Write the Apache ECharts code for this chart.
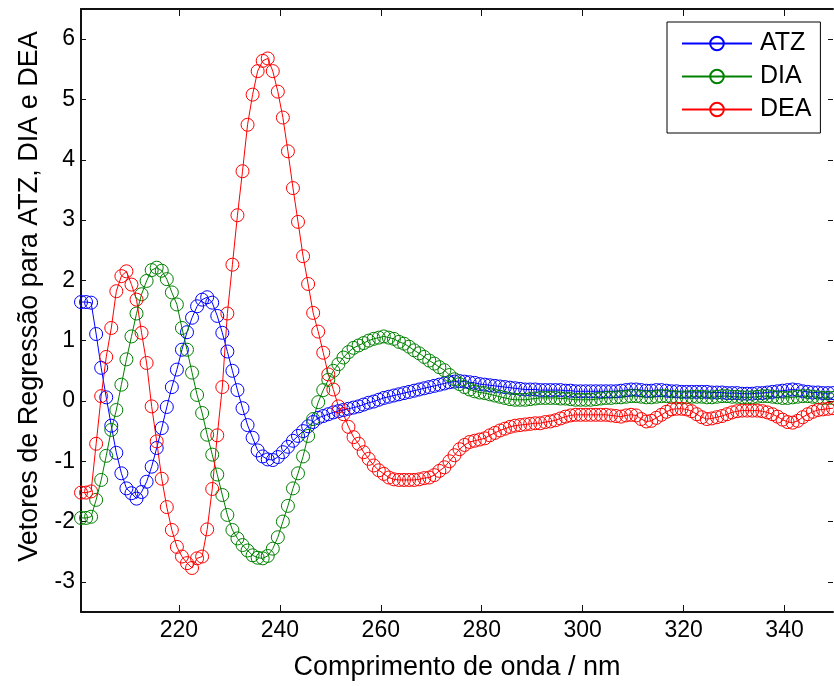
<!DOCTYPE html>
<html>
<head>
<meta charset="utf-8">
<script src="https://cdn.jsdelivr.net/npm/echarts@6/dist/echarts.min.js"></script>
<style>
  html, body { margin: 0; padding: 0; background: #fff; }
  #chart { width: 834px; height: 686px; }
</style>
</head>
<body>
<div id="chart"></div>
<script>
// Sampling grid of the spectra (nm)
const WAVELENGTH_START = 200.6;
const WAVELENGTH_STEP = 1;

// Tick labels
const X_TICKS = [220, 240, 260, 280, 300, 320, 340];
const Y_TICKS = [-3, -2, -1, 0, 1, 2, 3, 4, 5, 6];

// Regression vectors, one value per wavelength
const ATZ = [
  1.64, 1.64, 1.63, 1.11, 0.55, 0.06, -0.41, -0.86, -1.20, -1.45,
  -1.53, -1.62, -1.51, -1.34, -1.09, -0.78, -0.45, -0.10, 0.23, 0.52,
  0.85, 1.14, 1.38, 1.57, 1.68, 1.72, 1.63, 1.41, 1.13, 0.82,
  0.50, 0.18, -0.12, -0.40, -0.61, -0.82, -0.92, -0.97, -0.98, -0.93,
  -0.85, -0.76, -0.66, -0.58, -0.50, -0.42, -0.35, -0.28, -0.25, -0.22,
  -0.19, -0.17, -0.15, -0.13, -0.11, -0.09, -0.06, -0.03, -0.01, 0.02,
  0.05, 0.07, 0.09, 0.11, 0.13, 0.15, 0.17, 0.19, 0.21, 0.23,
  0.25, 0.27, 0.29, 0.31, 0.32, 0.33, 0.32, 0.31, 0.30, 0.28,
  0.27, 0.26, 0.25, 0.24, 0.23, 0.22, 0.21, 0.20, 0.19, 0.19,
  0.19, 0.18, 0.18, 0.18, 0.18, 0.18, 0.17, 0.17, 0.16, 0.16,
  0.16, 0.16, 0.16, 0.16, 0.16, 0.16, 0.16, 0.17, 0.18, 0.19,
  0.19, 0.18, 0.17, 0.17, 0.18, 0.18, 0.17, 0.16, 0.16, 0.15,
  0.15, 0.15, 0.15, 0.15, 0.15, 0.14, 0.14, 0.14, 0.13, 0.13,
  0.13, 0.12, 0.12, 0.12, 0.13, 0.13, 0.14, 0.15, 0.16, 0.17,
  0.18, 0.19, 0.18, 0.16, 0.15, 0.14, 0.14, 0.13, 0.13, 0.13
];

const DIA = [
  -1.94, -1.94, -1.92, -1.64, -1.31, -0.91, -0.48, -0.15, 0.27, 0.69,
  1.07, 1.45, 1.77, 1.99, 2.17, 2.21, 2.16, 2.02, 1.80, 1.60,
  1.21, 0.85, 0.47, 0.10, -0.20, -0.56, -0.89, -1.22, -1.56, -1.89,
  -2.14, -2.28, -2.39, -2.48, -2.56, -2.60, -2.61, -2.57, -2.45, -2.26,
  -2.00, -1.74, -1.45, -1.20, -0.92, -0.58, -0.30, -0.02, 0.18, 0.35,
  0.50, 0.61, 0.72, 0.81, 0.88, 0.92, 0.96, 1.00, 1.03, 1.05,
  1.07, 1.05, 1.03, 0.98, 0.95, 0.90, 0.84, 0.79, 0.73, 0.67,
  0.62, 0.56, 0.51, 0.43, 0.36, 0.28, 0.23, 0.19, 0.16, 0.14,
  0.13, 0.11, 0.09, 0.07, 0.05, 0.03, 0.02, 0.02, 0.02, 0.03,
  0.04, 0.05, 0.05, 0.05, 0.05, 0.04, 0.04, 0.03, 0.02, 0.02,
  0.02, 0.02, 0.03, 0.04, 0.05, 0.05, 0.06, 0.06, 0.07, 0.08,
  0.08, 0.07, 0.06, 0.06, 0.07, 0.08, 0.08, 0.07, 0.06, 0.06,
  0.06, 0.07, 0.07, 0.07, 0.06, 0.06, 0.07, 0.08, 0.08, 0.07,
  0.07, 0.06, 0.06, 0.06, 0.07, 0.08, 0.08, 0.07, 0.06, 0.05,
  0.05, 0.06, 0.07, 0.08, 0.08, 0.07, 0.06, 0.05, 0.05, 0.05
];

const DEA = [
  -1.52, -1.52, -1.50, -0.71, 0.08, 0.73, 1.21, 1.82, 2.07, 2.15,
  1.93, 1.68, 1.13, 0.63, -0.09, -0.67, -1.29, -1.76, -2.14, -2.42,
  -2.58, -2.69, -2.77, -2.61, -2.58, -2.13, -1.46, -0.57, 0.23, 1.45,
  2.26, 3.08, 3.81, 4.58, 5.08, 5.47, 5.64, 5.68, 5.47, 5.13,
  4.70, 4.14, 3.53, 2.97, 2.40, 1.94, 1.46, 1.15, 0.80, 0.44,
  0.19, -0.09, -0.22, -0.43, -0.60, -0.71, -0.85, -0.96, -1.07, -1.15,
  -1.21, -1.27, -1.30, -1.31, -1.31, -1.31, -1.31, -1.30, -1.28, -1.27,
  -1.23, -1.16, -1.10, -1.00, -0.90, -0.80, -0.73, -0.68, -0.66, -0.64,
  -0.62, -0.57, -0.53, -0.49, -0.46, -0.43, -0.41, -0.40, -0.39, -0.38,
  -0.37, -0.37, -0.35, -0.34, -0.32, -0.29, -0.26, -0.24, -0.23, -0.23,
  -0.23, -0.23, -0.23, -0.23, -0.23, -0.24, -0.25, -0.26, -0.24, -0.23,
  -0.24, -0.30, -0.34, -0.33, -0.28, -0.23, -0.18, -0.14, -0.13, -0.13,
  -0.14, -0.17, -0.22, -0.27, -0.30, -0.29, -0.27, -0.25, -0.22, -0.19,
  -0.17, -0.16, -0.16, -0.16, -0.16, -0.17, -0.19, -0.22, -0.26, -0.31,
  -0.35, -0.36, -0.33, -0.27, -0.22, -0.18, -0.15, -0.14, -0.13, -0.12
];

const SERIES_NAMES = ['ATZ', 'DIA', 'DEA'];
const SERIES_COLORS = ['#0000ff', '#008000', '#ff0000'];

const FONT = '"Liberation Sans", Arial, Helvetica, sans-serif';

const wavelength = ATZ.map((_, i) => +(WAVELENGTH_START + i * WAVELENGTH_STEP).toFixed(2));
const xMin = wavelength[0];
const xMax = wavelength[wavelength.length - 1];

function pairs(values) {
  return values.map((v, i) => [wavelength[i], v]);
}

function spectrumSeries(name, values, color) {
  return {
    name: name,
    type: 'line',
    data: pairs(values),
    symbol: 'circle',
    symbolSize: 13,
    showSymbol: true,
    lineStyle: { color: color, width: 1 },
    itemStyle: { color: 'rgba(255,255,255,0)', borderColor: color, borderWidth: 1 },
    emphasis: { disabled: true },
    z: 2
  };
}

const axisColor = '#111';

function frameTicks(values, length) {
  return { show: true, inside: true, length: length, customValues: values, lineStyle: { color: axisColor, width: 1 } };
}

const chart = echarts.init(document.getElementById('chart'), null, { renderer: 'canvas' });

chart.setOption({
  animation: false,
  backgroundColor: '#fff',
  textStyle: { fontFamily: FONT },
  grid: { left: 81, right: 1, top: 9, bottom: 72, containLabel: false },
  legend: {
    orient: 'vertical',
    left: 667,
    top: 22,
    padding: [9, 9, 11, 14],
    itemWidth: 70,
    itemHeight: 17,
    itemGap: 8,
    backgroundColor: '#fff',
    borderColor: '#000',
    borderWidth: 1,
    borderRadius: 0,
    textStyle: { fontSize: 25, fontFamily: FONT, color: '#000', lineHeight: 25, padding: [0, 0, 0, 3] },
    data: SERIES_NAMES
  },
  xAxis: [
    {
      type: 'value',
      position: 'bottom',
      min: xMin,
      max: xMax,
      axisLine: { show: true, onZero: false, lineStyle: { color: axisColor, width: 2 } },
      axisTick: frameTicks(X_TICKS, 7),
      axisLabel: { customValues: X_TICKS, fontSize: 23, fontFamily: FONT, color: '#000', margin: 7 },
      splitLine: { show: false },
      name: 'Comprimento de onda / nm',
      nameLocation: 'middle',
      nameGap: 42,
      nameTextStyle: { fontSize: 27, fontFamily: FONT, color: '#000' }
    },
    {
      type: 'value',
      position: 'top',
      min: xMin,
      max: xMax,
      axisLine: { show: true, onZero: false, lineStyle: { color: axisColor, width: 2 } },
      axisTick: frameTicks(X_TICKS, 7),
      axisLabel: { show: false },
      splitLine: { show: false }
    }
  ],
  yAxis: [
    {
      type: 'value',
      position: 'left',
      min: -3.5,
      max: 6.5,
      axisLine: { show: true, onZero: false, lineStyle: { color: axisColor, width: 2 } },
      axisTick: frameTicks(Y_TICKS, 5),
      axisLabel: { customValues: Y_TICKS, fontSize: 23, fontFamily: FONT, color: '#000', margin: 6 },
      splitLine: { show: false },
      name: 'Vetores de Regressão para ATZ, DIA e DEA',
      nameLocation: 'middle',
      nameGap: 38,
      nameTextStyle: { fontSize: 27, fontFamily: FONT, color: '#000', padding: [0, 0, 0, 28] }
    },
    {
      type: 'value',
      position: 'right',
      min: -3.5,
      max: 6.5,
      axisLine: { show: false, onZero: false },
      axisTick: frameTicks(Y_TICKS, 5),
      axisLabel: { show: false },
      splitLine: { show: false }
    }
  ],
  series: [
    spectrumSeries(SERIES_NAMES[0], ATZ, SERIES_COLORS[0]),
    spectrumSeries(SERIES_NAMES[1], DIA, SERIES_COLORS[1]),
    spectrumSeries(SERIES_NAMES[2], DEA, SERIES_COLORS[2])
  ]
});
</script>
</body>
</html>
